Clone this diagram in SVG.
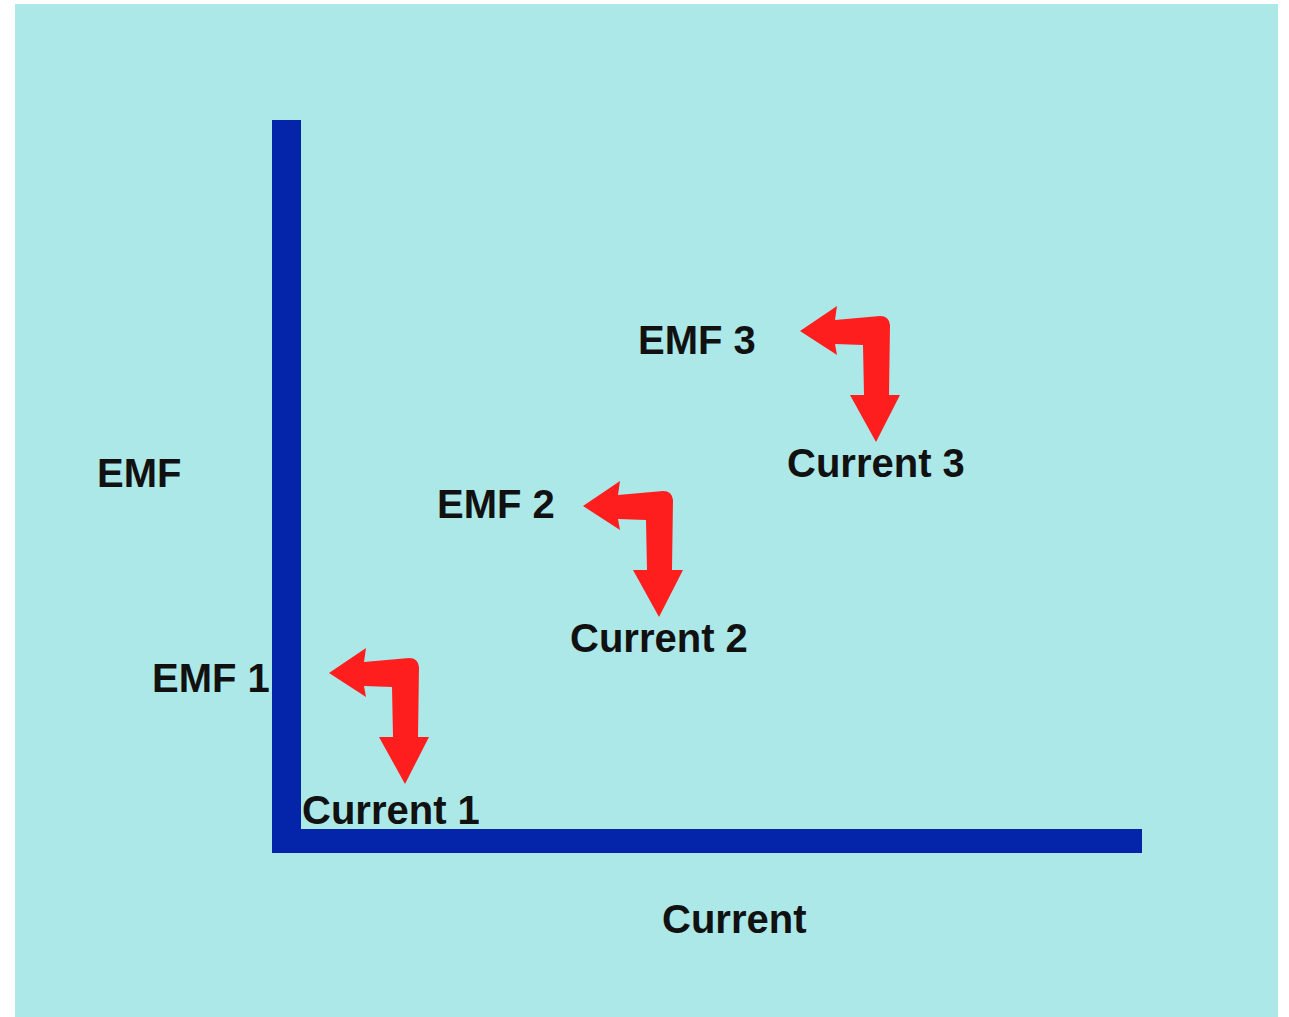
<svg xmlns="http://www.w3.org/2000/svg" width="1289" height="1017" viewBox="0 0 1289 1017">
<style>
.lbl{font-family:"Liberation Sans",Arial,sans-serif;font-weight:bold;font-size:40px;fill:#111111}
.axis{fill:#0424AA}
.arr{fill:#FF1E1E}
</style>
<defs>
<path id="bend" d="M0,0 L37,-25 L35,-11 L80,-15 Q89,-15 90,-6 L89,64 L100,64 L76,111 L50,64 L64,64 L63,14 L35,13 L37,24 Z"/>
</defs>
<rect x="0" y="0" width="1289" height="1017" fill="#ffffff"/>
<rect x="15" y="4" width="1263" height="1013" fill="#ACE8E8"/>
<g id="labels-behind">
<text class="lbl" x="152" y="692">EMF 1</text>
</g>
<g id="axes">
<rect class="axis" x="272" y="120" width="29" height="733"/>
<rect class="axis" x="272" y="829" width="870" height="24"/>
</g>
<g id="connectors">
<use href="#bend" class="arr" x="329" y="673"/>
<use href="#bend" class="arr" x="583" y="506"/>
<use href="#bend" class="arr" x="800" y="331"/>
</g>
<g id="axis-y-label"><text class="lbl" x="97" y="487">EMF</text></g>
<g id="axis-x-label"><text class="lbl" x="662" y="933">Current</text></g>
<g id="emf2"><text class="lbl" x="437" y="518">EMF 2</text></g>
<g id="emf3"><text class="lbl" x="638" y="354">EMF 3</text></g>
<g id="current1"><text class="lbl" x="302" y="824">Current 1</text></g>
<g id="current2"><text class="lbl" x="570" y="652">Current 2</text></g>
<g id="current3"><text class="lbl" x="787" y="477">Current 3</text></g>
</svg>
